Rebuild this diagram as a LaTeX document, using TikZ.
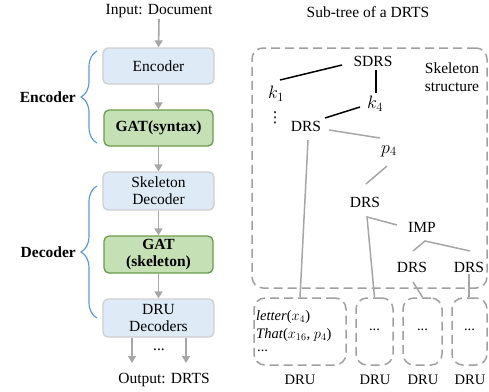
\RequirePackage{fix-cm}
\documentclass[tikz,border=0pt]{standalone}
\usepackage{fontspec}
\setmainfont{Liberation Serif}
\newfontfamily\dvsans{DejaVu Sans}
\usetikzlibrary{arrows.meta,calc,decorations.pathreplacing}
\definecolor{boxblue}{HTML}{DEEBF7}
\definecolor{boxblueline}{HTML}{CFCFCF}
\definecolor{boxgreen}{HTML}{C5E0B4}
\definecolor{boxgreenline}{HTML}{6B9A4C}
\definecolor{arrgray}{HTML}{A6A6A6}
\definecolor{dashgray}{HTML}{A0A0A0}
\definecolor{bracecol}{HTML}{5B9BD5}
\tikzset{
  txt/.style={font=\fontsize{15.5}{18}\selectfont, inner sep=1pt},
  bluebox/.style={txt, draw=boxblueline, fill=boxblue, line width=1.3pt, rounded corners=5pt, align=center, minimum width=111pt},
  greenbox/.style={txt, draw=boxgreenline, fill=boxgreen, line width=1.3pt, rounded corners=5pt, align=center, minimum width=109pt, font=\fontsize{15.5}{18}\selectfont\bfseries},
  flow/.style={draw=arrgray, line width=1.6pt, -{Triangle[width=8pt,length=7pt]}},
  dbox/.style={draw=dashgray, line width=1.5pt, dash pattern=on 9pt off 5pt, rounded corners=11pt},
  tblack/.style={draw=black, line width=1.5pt},
  tgray/.style={draw=arrgray, line width=1.5pt},
  bracestyle/.style={draw=bracecol, line width=1.2pt, decorate, decoration={brace, amplitude=16pt}},
  mth/.style={font=\fontsize{18}{20}\selectfont, inner sep=0pt},
  smalltxt/.style={txt, font=\fontsize{14.5}{17}\selectfont},
}
\begin{document}
\begin{tikzpicture}[x=1pt,y=-1pt]
\useasboundingbox (0,0) rectangle (489,391);
% ---------- left column ----------
\node[txt] (in) at (159,11) {Input: Document};
\node[bluebox, minimum height=36pt] (enc) at (158.5,66) {Encoder};
\node[greenbox, minimum height=36pt] (gat1) at (158.5,128) {GAT(syntax)};
\node[bluebox, minimum height=38pt, font=\fontsize{15.5}{17}\selectfont] (skd) at (158.5,191) {Skeleton\\Decoder};
\node[greenbox, minimum height=37pt, font=\fontsize{15.5}{17}\selectfont\bfseries] (gat2) at (158.5,254.5) {GAT\\(skeleton)};
\node[bluebox, minimum height=38pt, font=\fontsize{15.5}{17}\selectfont] (dru) at (158.5,318) {DRU\\Decoders};
\node[txt] (out) at (164,380) {Output: DRTS};
\node[txt] (odots) at (159,350) {...};
\coordinate (o1) at (132,363);
\coordinate (o2) at (186,363);

\draw[flow] (in.south) -- (enc.north);
\draw[flow] (enc.south) -- (gat1.north);
\draw[flow] (gat1.south) -- (skd.north);
\draw[flow] (skd.south) -- (gat2.north);
\draw[flow] (gat2.south) -- (dru.north);
\draw[flow] (dru.south -| o1) -- (o1);
\draw[flow] (dru.south -| o2) -- (o2);

\coordinate (eb1) at (97,143);
\coordinate (eb2) at (97,51);
\coordinate (db1) at (97,318);
\coordinate (db2) at (97,186);
\draw[bracestyle] (eb1) -- (eb2);
\draw[bracestyle] (db1) -- (db2);
\node[txt, font=\fontsize{15.5}{18}\selectfont\bfseries, anchor=east] (enclab) at (77,97) {Encoder};
\node[txt, font=\fontsize{15.5}{18}\selectfont\bfseries, anchor=east] (declab) at (77,252) {Decoder};

% ---------- right side ----------
\node[txt] (title) at (368,12) {Sub-tree of a DRTS};
\node[dbox, minimum width=235pt, minimum height=240pt, inner sep=0pt] (skel) at (369.5,168) {};
\node[txt, align=center, font=\fontsize{15.5}{18}\selectfont] (skl) at (452,77) {Skeleton\\structure};

\node[txt] (SDRS) at (373,61) {SDRS};
\node[mth] (k1) at (276,94) {$k_1$};
\node[mth] (k4) at (375,104) {$k_4$};
\node[inner sep=0pt, font=\dvsans\fontsize{15}{18}\selectfont] (vd) at (275,118) {⋮};
\node[txt] (DRS1) at (306,126) {DRS};
\node[mth] (p4) at (389,151) {$p_4$};
\node[txt] (DRS2) at (365,202) {DRS};
\node[txt] (IMP) at (422,227) {IMP};
\node[txt] (DRS3) at (412,267) {DRS};
\node[txt] (DRS4) at (469,267) {DRS};

% DRU boxes
\node[dbox, minimum width=92pt, minimum height=67pt, inner sep=0pt] (DRU1) at (300,331.5) {};
\node[dbox, minimum width=37pt, minimum height=67pt, inner sep=0pt] (DRU2) at (374.5,331.5) {};
\node[dbox, minimum width=39pt, minimum height=67pt, inner sep=0pt] (DRU3) at (422.5,331.5) {};
\node[dbox, minimum width=35pt, minimum height=67pt, inner sep=0pt] (DRU4) at (469.5,331.5) {};

\node[txt, anchor=west, font=\fontsize{14.5}{17}\selectfont] (l1) at (255,317) {\textit{letter}($x_4$)};
\node[txt, anchor=west, font=\fontsize{14.5}{17}\selectfont] (l2) at (255,335) {\textit{That}($x_{16}$, $p_4$)};
\node[txt, anchor=west, font=\fontsize{14.5}{17}\selectfont] (l3) at (256,351) {...};
\node[smalltxt] (d2) at (374.5,330) {...};
\node[smalltxt] (d3) at (422.5,330) {...};
\node[smalltxt] (d4) at (469.5,330) {...};

\node[smalltxt] (u1) at (300,380) {DRU};
\node[smalltxt] (u2) at (375,380) {DRU};
\node[smalltxt] (u3) at (423,380) {DRU};
\node[smalltxt] (u4) at (470,380) {DRU};

% tree edges
\draw[tblack] ($(SDRS)+(-31,4)$) -- ($(k1)+(4,-14)$);
\draw[tblack] ($(SDRS)+(3,9)$) -- ($(k4)+(1,-11)$);
\draw[tblack] ($(k4)+(-15,3)$) -- ($(DRS1)+(19,-8)$);
\draw[tgray] ($(DRS1)+(23,4)$) -- ($(p4)+(-9,-13)$);
\draw[tgray] ($(p4)+(-2,15)$) -- ($(DRS2)+(1,-18)$);
\draw[tgray] ($(DRS1)+(2,14)$) -- (DRU1.north);
\draw[tgray] ($(IMP)+(-25,-2)$) -- ($(DRS2)+(2,15)$) -- (DRU2.north);
\draw[tgray] ($(DRS3)+(1,-16)$) -- ($(IMP)+(3,14)$) -- ($(DRS4)+(1,-16)$);
\draw[tgray] ($(DRS3)+(1,15)$) -- (DRU3.north);
\draw[tgray] ($(DRS4)+(0,7)$) -- (DRU4.north -| DRS4);
\end{tikzpicture}
\end{document}
